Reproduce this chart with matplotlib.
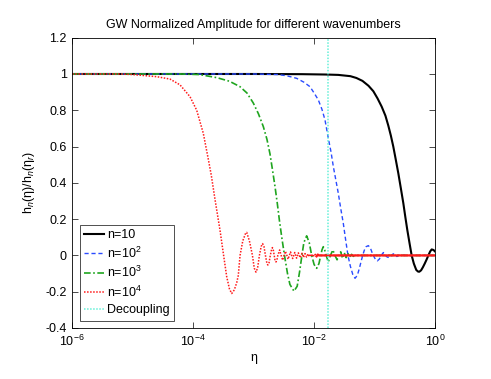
import numpy as np
import matplotlib
matplotlib.use("Agg")
import matplotlib.pyplot as plt
from matplotlib.ticker import NullLocator

plt.rcParams['font.family'] = ['Liberation Sans', 'DejaVu Sans']
plt.rcParams['mathtext.fontset'] = 'custom'
plt.rcParams['mathtext.rm'] = 'Liberation Sans'
plt.rcParams['mathtext.it'] = 'Liberation Sans:italic'
plt.rcParams['mathtext.bf'] = 'Liberation Sans:bold'

# ---- data (log10 of eta, normalized amplitude) ----
logeta_n10 = [-6, -3, -2.2, -1.8, -1.6, -1.4, -1.3, -1.2, -1.1, -1.02, -0.95,
              -0.882, -0.82, -0.772, -0.73, -0.69, -0.65, -0.607, -0.565, -0.524,
              -0.49, -0.458, -0.42, -0.386, -0.35, -0.31, -0.28, -0.26, -0.23,
              -0.2, -0.17, -0.138, -0.11, -0.08, -0.055, -0.025, 0]
amp_n10 = [1, 1, 0.999, 0.997, 0.995, 0.988, 0.978, 0.962, 0.935, 0.905, 0.865,
           0.82, 0.77, 0.715, 0.66, 0.60, 0.53, 0.453, 0.37, 0.288,
           0.21, 0.14, 0.065, 0.0, -0.045, -0.08, -0.089, -0.09, -0.082,
           -0.065, -0.045, -0.022, 0.0, 0.022, 0.033, 0.03, 0.022]

logeta_n100 = [-6, -3, -2.6, -2.45, -2.288, -2.17, -2.068, -1.99, -1.93, -1.87,
               -1.82, -1.765, -1.72, -1.682, -1.64, -1.60, -1.56, -1.517, -1.48,
               -1.44, -1.40, -1.36, -1.323, -1.285, -1.25, -1.22, -1.196,
               -1.17, -1.14, -1.103, -1.07, -1.04, -1.02, -0.985, -0.954, -0.92,
               -0.89, -0.854, -0.82, -0.79, -0.755, -0.72, -0.69, -0.66, -0.63,
               -0.60, -0.575, -0.5, 0]
amp_n100 = [1, 1, 0.997, 0.99, 0.976, 0.955, 0.93, 0.89, 0.857, 0.805,
            0.747, 0.646, 0.57, 0.49, 0.415, 0.343, 0.26, 0.177, 0.09,
            0.0, -0.06, -0.105, -0.126, -0.11, -0.07, -0.03, 0.0,
            0.028, 0.048, 0.054, 0.042, 0.015, 0.0, -0.022, -0.03, -0.02,
            0.0, 0.016, 0.0, -0.009, -0.012, 0.0, 0.009, 0.0, -0.006,
            0.0, 0.004, 0.0, 0.0]

logeta_n1000 = [-6, -4.2, -3.9, -3.611, -3.4, -3.226, -3.11, -3.006, -2.92, -2.84,
                -2.78, -2.73, -2.69, -2.647, -2.61, -2.575, -2.535, -2.49, -2.44,
                -2.40, -2.333, -2.28, -2.24, -2.21, -2.17, -2.123, -2.08, -2.04,
                -2.0, -1.957, -1.92, -1.89, -1.87, -1.848, -1.825, -1.80, -1.765,
                -1.73, -1.69, -1.655, -1.62, -1.59, -1.56, -1.53, -1.50, -1.47,
                -1.44, -1.41, -1.38, -1.35, -1.3, 0]
amp_n1000 = [1, 1, 0.997, 0.98, 0.96, 0.93, 0.895, 0.84, 0.78, 0.71,
             0.64, 0.56, 0.475, 0.38, 0.29, 0.196, 0.1, 0.0, -0.1,
             -0.16, -0.197, -0.17, -0.09, -0.02, 0.07, 0.108, 0.07, 0.0,
             -0.05, -0.071, -0.045, 0.0, 0.03, 0.048, 0.03, 0.0, -0.036,
             0.0, 0.03, 0.0, -0.024, 0.0, 0.02, -0.016, 0.014, -0.012,
             0.01, -0.008, 0.006, -0.005, 0.0, 0.0]

logeta_n10000 = [-6, -5.2, -5, -4.6, -4.384, -4.218, -4.053, -3.942, -3.833, -3.75,
                 -3.70, -3.64, -3.557, -3.502, -3.446, -3.40, -3.363, -3.32, -3.28,
                 -3.254, -3.225, -3.18, -3.13, -3.115, -3.07, -3.02, -2.99, -2.962,
                 -2.935, -2.905, -2.875, -2.852, -2.83, -2.805, -2.78, -2.765, -2.745,
                 -2.725, -2.70, -2.69, -2.675, -2.66, -2.645, -2.63, -2.615, -2.6,
                 -2.57, -2.545, -2.52, -2.497, -2.475, -2.45, -2.43, -2.41, -2.39,
                 -2.355, -2.32, -2.29, -2.26, -2.23, -2.2, -2.175, -2.15, -2.125,
                 -2.1, -2.08, -2.06, -2.04, -2.02, -2.0, -1.98, -1.96, -1.94, -1.92, 0]
amp_n10000 = [1, 1, 0.997, 0.985, 0.972, 0.94, 0.875, 0.80, 0.673, 0.53,
              0.44, 0.31, 0.14, 0.012, -0.117, -0.185, -0.21, -0.19, -0.15,
              -0.11, 0.0, 0.08, 0.125, 0.127, 0.08, 0.0, -0.07, -0.092,
              -0.07, 0.0, 0.05, 0.065, 0.05, 0.0, -0.045, -0.053, -0.04,
              0.0, 0.037, 0.043, 0.03, 0.0, -0.03, -0.036, -0.025, 0.0,
              0.03, 0.0, -0.026, 0.0, 0.023, 0.0, -0.021, 0.0, 0.019,
              -0.017, 0.016, -0.015, 0.014, -0.013, 0.012, -0.011, 0.01, -0.009,
              0.009, -0.008, 0.008, -0.007, 0.007, -0.006, 0.006, -0.005, 0.005, 0.0, 0.0]

logeta_decoupling = -1.765

labels = ['n=10', 'n=10$^2$', 'n=10$^3$', 'n=10$^4$', 'Decoupling']
ytick_vals = [-0.4, -0.2, 0, 0.2, 0.4, 0.6, 0.8, 1, 1.2]
ytick_labels = ['-0.4', '-0.2', '0', '0.2', '0.4', '0.6', '0.8', '1', '1.2']
xtick_vals = [1e-6, 1e-4, 1e-2, 1e0]

# ---- plot ----
fig = plt.figure(figsize=(4.91, 3.79), dpi=100)
ax = fig.add_axes([72.3 / 491, 1 - 328 / 379, (435 - 72.3) / 491, (328 - 37.7) / 379])

def eta(lv):
    return 10.0 ** np.asarray(lv, dtype=float)

ax.plot(eta(logeta_n10), amp_n10, '-', color='k', lw=1.5, label=labels[0])
ax.plot(eta(logeta_n100), amp_n100, '--', color='#2a4bff', lw=1.0,
        dashes=(3, 2), label=labels[1])
ax.plot(eta(logeta_n1000), amp_n1000, '-.', color='#1fa51f', lw=1.2,
        dashes=(4, 1.5, 1, 1.5), label=labels[2])
red_x = np.asarray(logeta_n10000, dtype=float)
red_y = np.asarray(amp_n10000, dtype=float)
ax.plot(eta(red_x), red_y, ':', color='#ff1a1a', lw=1.1,
        dashes=(1, 1), label=labels[3])
tail = red_x >= -1.97
ax.plot(eta(red_x[tail]), red_y[tail], '-', color='#ff1a1a', lw=1.6)
ax.axvline(10.0 ** logeta_decoupling, color='#66f0d8', ls=':', lw=1.1,
           dashes=(1, 1), label=labels[4])

ax.set_xscale('log')
ax.set_xlim(1e-6, 1)
ax.set_ylim(-0.4, 1.2)
ax.set_xticks(xtick_vals)
ax.xaxis.set_minor_locator(NullLocator())
ax.set_yticks(ytick_vals)
ax.set_yticklabels(ytick_labels)
ax.tick_params(direction='in', top=True, right=True, length=4, width=0.5,
               labelsize=9, pad=4)
for s in ax.spines.values():
    s.set_linewidth(0.6)

ax.set_title('GW Normalized Amplitude for different wavenumbers', fontsize=9, pad=7)
ax.set_xlabel('η', fontsize=9, labelpad=2)
ax.set_ylabel(r'h$_n$(η)/h$_n$(η$_r$)', fontsize=9, labelpad=6)

leg = ax.legend(loc='lower left', fontsize=9, frameon=True, fancybox=False,
                edgecolor='k', handlelength=1.6, handletextpad=0.2,
                labelspacing=0.35, borderpad=0.35, borderaxespad=0.6)
leg.get_frame().set_linewidth(0.6)

fig.savefig('out.png', dpi=100)
